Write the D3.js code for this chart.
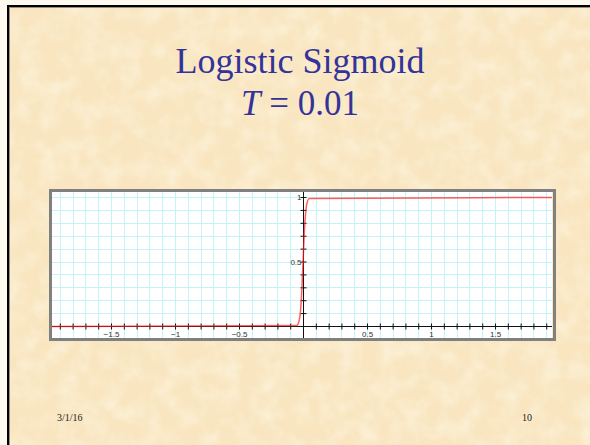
<!DOCTYPE html>
<meta charset="utf-8">
<script src="https://d3js.org/d3.v7.min.js"></script>
<style>
  body { margin: 0; background: #fffaf0; }
  svg { display: block; }
</style>
<div id="slide"></div>
<script>

// curve points (x, y)
var curveX = [-1.96, -0.05, -0.03, -0.02, -0.01, 0, 0.01, 0.02, 0.03, 0.05, 1.945];
var curveY = [0, 0.007, 0.05, 0.12, 0.27, 0.5, 0.73, 0.88, 0.95, 0.993, 1];

var xTickValues = d3.range(-19, 20).filter(function(i) { return i !== 0; }).map(function(i) { return i / 10; });
var yTickValues = d3.range(1, 11).map(function(i) { return i / 10; });
var xLabels = [-1.5, -1, -0.5, 0.5, 1, 1.5];
var yLabels = [0.5, 1];

var W = 590, H = 445;
var serif = "'Liberation Serif', 'DejaVu Serif', serif";

var svg = d3.select("#slide").append("svg")
    .attr("width", W)
    .attr("height", H);

// parchment background
var defs = svg.append("defs");
var f = defs.append("filter").attr("id", "paper")
    .attr("x", 0).attr("y", 0).attr("width", "100%").attr("height", "100%");
f.append("feTurbulence")
    .attr("type", "fractalNoise")
    .attr("baseFrequency", "0.05")
    .attr("numOctaves", 3)
    .attr("seed", 7);
f.append("feColorMatrix")
    .attr("type", "matrix")
    .attr("values", "0 0 0 0 1  0 0 0 0 0.97  0 0 0 0 0.88  0 0 0 -0.9 0.55");
f.append("feComposite").attr("in2", "SourceGraphic").attr("operator", "in");

svg.append("rect").attr("x", 8).attr("y", 6).attr("width", W).attr("height", H)
    .attr("fill", "#f9e6c0");
svg.append("rect").attr("x", 8).attr("y", 6).attr("width", W).attr("height", H)
    .attr("fill", "#f9e6c0").attr("filter", "url(#paper)");

// slide border (left and top)
svg.append("line").attr("x1", 8).attr("x2", 8).attr("y1", 5).attr("y2", H)
    .attr("stroke", "#000").attr("stroke-width", 2);
svg.append("line").attr("x1", 7).attr("x2", W).attr("y1", 6).attr("y2", 6)
    .attr("stroke", "#000").attr("stroke-width", 2);
svg.append("line").attr("x1", 9.5).attr("x2", 9.5).attr("y1", 7).attr("y2", H)
    .attr("stroke", "#9a9080").attr("stroke-width", 1);
svg.append("line").attr("x1", 9).attr("x2", W).attr("y1", 7.5).attr("y2", 7.5)
    .attr("stroke", "#9a9080").attr("stroke-width", 1);

// title
svg.append("text")
    .attr("x", 300).attr("y", 73)
    .attr("text-anchor", "middle")
    .attr("font-family", serif)
    .attr("font-size", 36)
    .attr("fill", "#333399")
    .text("Logistic Sigmoid");

var sub = svg.append("text")
    .attr("x", 300).attr("y", 115)
    .attr("text-anchor", "middle")
    .attr("font-family", serif)
    .attr("font-size", 35)
    .attr("fill", "#333399");
sub.append("tspan").attr("font-style", "italic").text("T");
sub.append("tspan").text(" = 0.01");

// footer
svg.append("text").attr("x", 57).attr("y", 421)
    .attr("font-family", serif).attr("font-size", 10)
    .attr("fill", "#222").text("3/1/16");
svg.append("text").attr("x", 532).attr("y", 421).attr("text-anchor", "end")
    .attr("font-family", serif).attr("font-size", 10)
    .attr("fill", "#222").text("10");

// plot area
var plot = {left: 52, right: 552, top: 192, bottom: 338};

var x = d3.scaleLinear().domain([-1.961, 1.945]).range([plot.left, plot.right]);
var y = d3.scaleLinear().domain([-0.093, 1.039]).range([plot.bottom, plot.top]);

svg.append("rect")
    .attr("x", plot.left).attr("y", plot.top)
    .attr("width", plot.right - plot.left).attr("height", plot.bottom - plot.top)
    .attr("fill", "#fff");

var grid = svg.append("g");
grid.selectAll(".vg").data(xTickValues.concat([0])).enter().append("line")
    .attr("x1", function(d) { return Math.round(x(d)) + 0.5; })
    .attr("x2", function(d) { return Math.round(x(d)) + 0.5; })
    .attr("y1", plot.top).attr("y2", plot.bottom)
    .attr("stroke", "#c4f4f8");
grid.selectAll(".hg").data(yTickValues).enter().append("line")
    .attr("y1", function(d) { return Math.round(y(d)) + 0.5; })
    .attr("y2", function(d) { return Math.round(y(d)) + 0.5; })
    .attr("x1", plot.left).attr("x2", plot.right)
    .attr("stroke", "#c4f4f8");

// axes
var xAxis = svg.append("g")
    .attr("transform", "translate(0," + (Math.round(y(0)) + 0.5) + ")")
    .call(d3.axisBottom(x)
        .tickValues(xTickValues)
        .tickSize(3)
        .tickFormat(function(d) { return xLabels.indexOf(d) >= 0 ? d3.format("")(d) : ""; }));
xAxis.select(".domain").remove();
xAxis.selectAll(".tick line").attr("y1", -3).attr("y2", 3).attr("stroke", "#111");
xAxis.selectAll(".tick text").attr("y", 5)
    .attr("font-family", "Arial, 'Liberation Sans', sans-serif").attr("font-size", 8)
    .attr("fill", "#333");
xAxis.append("line").attr("x1", plot.left).attr("x2", plot.right)
    .attr("stroke", "#111");

var yAxis = svg.append("g")
    .attr("transform", "translate(" + (Math.round(x(0)) + 0.5) + ",0)")
    .call(d3.axisLeft(y)
        .tickValues(yTickValues)
        .tickSize(3)
        .tickFormat(function(d) { return yLabels.indexOf(d) >= 0 ? d3.format("")(d) : ""; }));
yAxis.select(".domain").remove();
yAxis.selectAll(".tick line").attr("x1", -3).attr("x2", 3).attr("stroke", "#111");
yAxis.selectAll(".tick text").attr("x", -2)
    .attr("font-family", "Arial, 'Liberation Sans', sans-serif").attr("font-size", 8)
    .attr("fill", "#333");
yAxis.append("line").attr("y1", plot.top).attr("y2", plot.bottom)
    .attr("stroke", "#111");

// curve
var pts = curveX.map(function(d, i) { return [d, curveY[i]]; });
svg.append("path")
    .datum(pts)
    .attr("fill", "none")
    .attr("stroke", "#ff1a1a")
    .attr("stroke-opacity", 0.7)
    .attr("stroke-width", 1.5)
    .attr("d", d3.line()
        .x(function(d) { return x(d[0]); })
        .y(function(d) { return Math.round(y(d[1])) + 0.5; })
        .curve(d3.curveMonotoneX));

// frame
svg.append("rect")
    .attr("x", plot.left - 1.5).attr("y", plot.top - 1.5)
    .attr("width", plot.right - plot.left + 3 + 1).attr("height", plot.bottom - plot.top + 3)
    .attr("fill", "none")
    .attr("stroke", "#808080")
    .attr("stroke-width", 3);

</script>
